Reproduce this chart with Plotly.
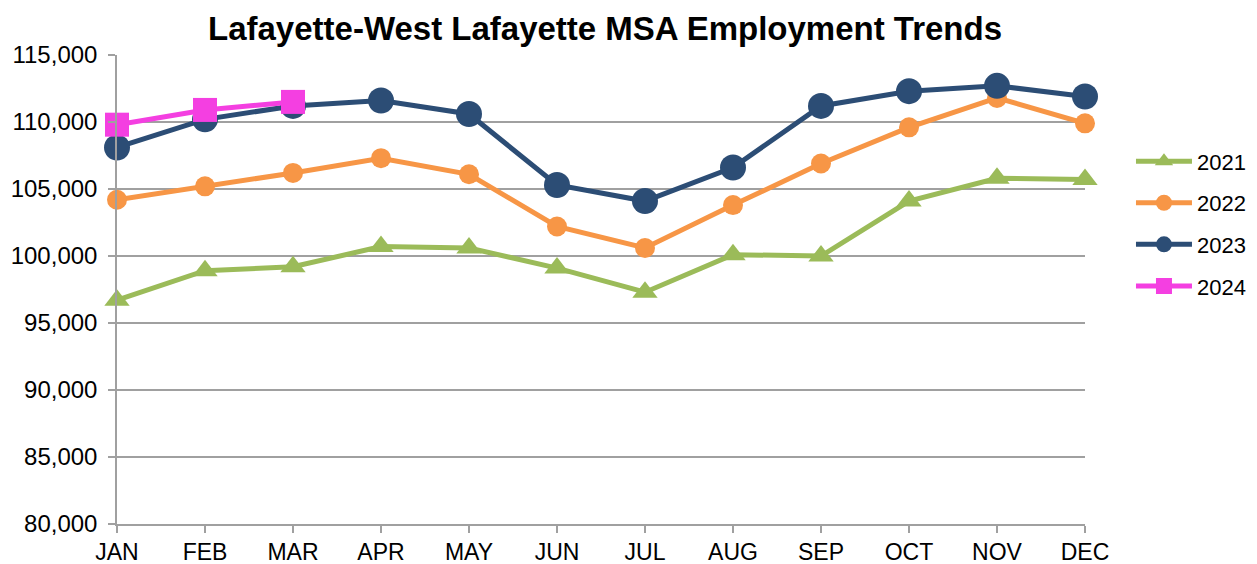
import plotly.graph_objects as go

months = ["JAN", "FEB", "MAR", "APR", "MAY", "JUN", "JUL", "AUG", "SEP", "OCT", "NOV", "DEC"]
y2021 = [96700, 98900, 99200, 100700, 100600, 99100, 97300, 100100, 100000, 104100, 105800, 105700]
y2022 = [104200, 105200, 106200, 107300, 106100, 102200, 100600, 103800, 106900, 109600, 111800, 109900]
y2023 = [108100, 110200, 111200, 111600, 110600, 105300, 104100, 106600, 111200, 112300, 112700, 111900]
y2024 = [109800, 110900, 111500]

series = [
    ("2021", y2021, "#9BBB59", "triangle-up", 22),
    ("2022", y2022, "#F79646", "circle", 20),
    ("2023", y2023, "#2C4D75", "circle", 26),
    ("2024", y2024, "#F43FE1", "square", 24),
]

fig = go.Figure()
for i, (name, vals, color, sym, size) in enumerate(series):
    fig.add_trace(go.Scatter(
        x=months[:len(vals)], y=vals, name=name, mode="lines+markers",
        line=dict(color=color, width=5),
        marker=dict(symbol=sym, size=size, color=color),
        cliponaxis=False, legendgroup=name,
    ))

grid = "#A0A0A0"
# page body has an 8px margin, so the figure is drawn 8px in from the top-left
fig.update_layout(
    width=1249, height=556,
    margin=dict(l=109, r=172, t=47, b=40, autoexpand=False),
    paper_bgcolor="white", plot_bgcolor="white",
    font=dict(family="Liberation Sans, Arial, sans-serif", size=22, color="black"),
    title=dict(text="<b>Lafayette-West Lafayette MSA Employment Trends</b>",
               x=0.478, xanchor="center", y=0.963, yanchor="middle",
               font=dict(size=33, color="black")),
    showlegend=True,
    legend=dict(x=1.0475, xanchor="left", y=0.64, yanchor="middle",
                font=dict(size=22), itemwidth=56, traceorder="grouped",
                tracegroupgap=10, bgcolor="rgba(0,0,0,0)"),
    xaxis=dict(type="category", categoryorder="array", categoryarray=months,
               range=[0, 11], showgrid=False, showline=True, linecolor=grid, linewidth=1.5,
               ticks="outside", ticklen=7, tickcolor=grid, tickwidth=1.5,
               tickfont=dict(size=23), zeroline=False, automargin=False),
    yaxis=dict(range=[80000, 115000], dtick=5000, tickformat=",",
               showgrid=True, gridcolor=grid, gridwidth=1.5,
               showline=True, linecolor=grid, linewidth=1.5,
               ticks="outside", ticklen=7, tickcolor=grid, tickwidth=1.5,
               ticklabelstandoff=6,
               tickfont=dict(size=24), zeroline=False, automargin=False),
)

fig.write_html("out.html")
